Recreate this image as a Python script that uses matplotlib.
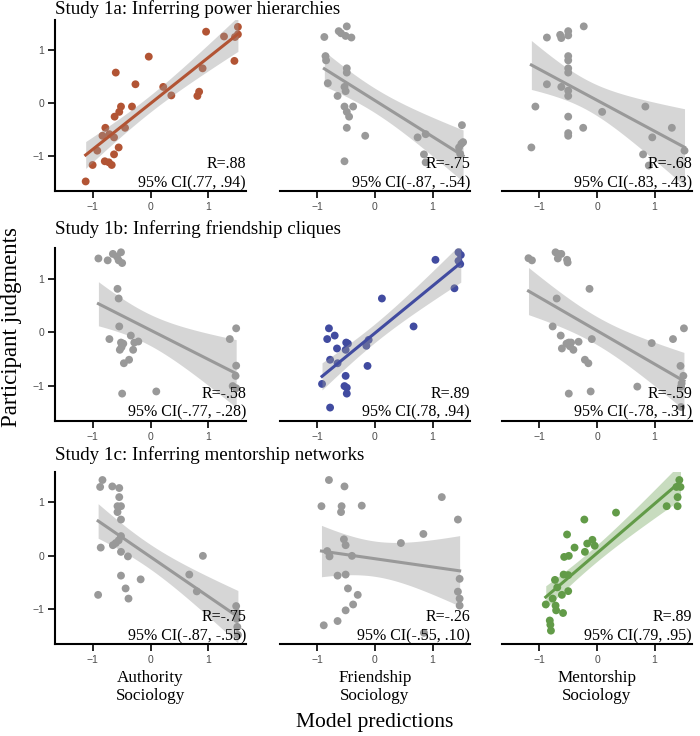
import matplotlib
matplotlib.use('Agg')
import matplotlib.pyplot as plt
import numpy as np

# ===== data: model predictions (x) vs participant judgments (y) =====
# Study 1a - power hierarchies
pow_auth_x = [-1.12, -1.0, -0.92, -0.79, -0.72, -0.67, -0.63, -0.55, -0.78, -0.83, -0.71, -0.63, -0.62, -0.60, -0.54, -0.51,
              -0.44, -0.32, -0.26, -0.03, 0.22, 0.36, 0.81, 0.84, 0.90, 0.96, 1.27, 1.45, 1.46, 1.51, 1.51]
pow_auth_y = [-1.47, -1.16, -0.89, -1.09, -1.11, -1.16, -0.96, -0.83, -0.46, -0.61, -0.58, -0.64, -0.25, 0.58, -0.16, -0.06,
              -0.46, -0.06, 0.36, 0.88, 0.31, 0.15, 0.14, 0.22, 0.66, 1.35, 1.26, 0.80, 1.25, 1.30, 1.44]
pow_friend_x = [-0.88, -0.86, -0.85, -0.82, -0.63, -0.59, -0.49, -0.51, -0.41, -0.49, -0.49, -0.53, -0.51, -0.65, -0.53,
                -0.38, -0.49, -0.45, -0.49, -0.17, -0.53, 0.74, 0.88, 0.85, 0.88, 1.51, 1.50, 1.53, 1.46, 1.48]
pow_friend_y = [1.25, 0.89, 0.81, 0.38, 1.36, 1.32, 1.45, 1.27, 1.24, 0.66, 0.58, 0.31, 0.23, 0.14, -0.06,
                -0.06, -0.16, -0.25, -0.46, -0.61, -1.09, -0.64, -0.58, -0.96, -1.11, -0.41, -0.76, -0.73, -0.83, -0.95]
pow_mentor_x = [-1.14, -1.07, -0.87, -0.87, -0.64, -0.62, -0.50, -0.50, -0.62, -0.50, -0.50, -0.50, -0.50, -0.50,
                -0.50, -0.50, -0.50, -0.50, -0.23, -0.24, 0.09, 0.84, 0.96, 0.80, 0.90, 1.30, 1.52]
pow_mentor_y = [-0.83, -0.06, 1.24, 0.36, 1.29, 1.23, 1.36, 1.28, 0.31, 0.89, 0.81, 0.66, 0.58, 0.24,
                0.14, -0.25, -0.56, -0.61, 1.45, -0.46, -0.16, -0.06, -0.64, -0.96, -1.17, -0.46, -0.89]

# Study 1b - friendship cliques
fr_auth_x = [-0.90, -0.74, -0.65, -0.58, -0.55, -0.51, -0.49, -0.57, -0.55, -0.54, -0.71, -0.51, -0.47, -0.34, -0.50,
             -0.53, -0.30, -0.28, -0.21, -0.46, -0.37, -0.49, 0.10, 1.37, 1.48, 1.48, 1.47, 1.42, 1.48]
fr_auth_y = [1.375, 1.34, 1.46, 1.41, 1.34, 1.49, 1.29, 0.81, 0.63, 0.11, -0.125, -0.19, -0.21, -0.06, -0.275,
             -0.325, -0.325, -0.19, -0.17, -0.575, -0.51, -1.14, -1.10, -0.125, 0.075, -0.62, -0.81, -1.0, -1.04]
fr_friend_x = [-0.92, -0.80, -0.83, -0.70, -0.66, -0.78, -0.65, -0.78, -0.51, -0.53, -0.49, -0.49, -0.50, -0.47,
               -0.51, -0.15, -0.13, -0.11, 0.12, 0.67, 1.05, 1.38, 1.45, 1.49, 1.45, 1.48]
fr_friend_y = [-0.96, 0.075, -0.125, -0.06, -0.30, -0.51, -0.575, -1.40, -0.81, -1.0, -1.03, -1.14, -0.19, -0.21,
               -0.325, -0.25, -0.625, -0.14, 0.63, 0.11, 1.35, 0.82, 1.49, 1.44, 1.33, 1.27]
fr_mentor_x = [-1.19, -1.13, -0.72, -0.67, -0.68, -0.62, -0.52, -0.51, -0.13, -0.70, -0.77, -0.63, -0.61, -0.53,
               -0.49, -0.47, -0.45, -0.41, -0.32, -0.09, -0.21, -0.15, -0.49, -0.11, 0.70, 0.95, 1.32, 1.51,
               1.45, 1.50, 1.47, 1.46, 1.46]
fr_mentor_y = [1.38, 1.34, 1.49, 1.46, 1.375, 1.46, 1.35, 1.30, 0.81, 0.63, 0.11, -0.06, -0.30, -0.21,
               -0.19, -0.26, -0.19, -0.325, -0.175, -0.125, -0.51, -0.575, -1.14, -1.10, -1.01, -0.20, -0.125, 0.075,
               -0.625, -0.81, -0.95, -1.01, -1.39]

# Study 1c - mentorship networks
men_auth_x = [-0.905, -0.86, -0.87, -0.83, -0.66, -0.54, -0.54, -0.57, -0.51, -0.57, -0.51, -0.65, -0.60, -0.55, -0.51,
              -0.51, -0.39, -0.51, -0.43, -0.38, -0.17, 0.67, 0.80, 0.905, 1.48, 1.50, 1.49, 1.50, 1.51]
men_auth_y = [-0.73, 0.155, 1.29, 1.42, 1.30, 1.27, 1.10, 0.93, 0.93, 0.82, 0.68, 0.20, 0.24, 0.29, 0.37,
              0.075, -0.01, -0.37, -0.61, -0.80, -0.44, -0.35, -0.665, 0.0, -0.94, -1.07, -1.18, -1.33, -1.48]
men_friend_x = [-0.93, -0.80, -0.53, -0.58, -0.59, -0.23, -0.54, -0.51, -0.83, -0.79, -0.40, -0.65, -0.51, -0.47,
                -0.30, -0.38, -0.51, -0.65, -0.89, 0.45, 0.84, 1.16, 1.44, 0.85, 1.47, 1.44, 1.47, 1.47]
men_friend_y = [0.93, 1.42, 1.30, 0.93, 0.82, 0.94, 0.31, 0.20, 0.09, -0.01, 0.0, -0.37, -0.35, -0.61,
                -0.73, -0.91, -1.02, -1.22, -1.30, 0.24, 0.41, 1.10, 0.68, -1.44, -0.43, -0.67, -0.80, -0.93]
men_mentor_x = [-0.89, -0.82, -0.81, -0.80, -0.77, -0.72, -0.71, -0.59, -0.73, -0.69, -0.61, -0.58, -0.50, -0.50,
                -0.57, -0.49, -0.52, -0.39, -0.22, -0.21, -0.17, -0.08, -0.04, 0.33, 1.21, 1.40, 1.40, 1.38,
                1.43, 1.45]
men_mentor_y = [-0.91, -1.21, -1.29, -1.40, -0.80, -0.93, -1.02, -1.07, -0.45, -0.59, -0.73, -0.35, -0.36, -0.66,
                -0.02, 0.0, 0.40, 0.155, 0.68, 0.075, 0.23, 0.30, 0.19, 0.81, 0.93, 0.93, 1.10, 1.29,
                1.42, 1.29]

row_titles = ['Study 1a: Inferring power hierarchies',
              'Study 1b: Inferring friendship cliques',
              'Study 1c: Inferring mentorship networks']
col_labels = ['Authority\nSociology', 'Friendship\nSociology', 'Mentorship\nSociology']
r_text = [['R=.88', 'R=-.75', 'R=-.68'],
          ['R=-.58', 'R=.89', 'R=-.59'],
          ['R=-.75', 'R=-.26', 'R=.89']]
ci_text = [['95% CI(.77, .94)', '95% CI(-.87, -.54)', '95% CI(-.83, -.43)'],
           ['95% CI(-.77, -.28)', '95% CI(.78, .94)', '95% CI(-.78, -.31)'],
           ['95% CI(-.87, -.55)', '95% CI(-.55, .10)', '95% CI(.79, .95)']]

panels = [[(pow_auth_x, pow_auth_y), (pow_friend_x, pow_friend_y), (pow_mentor_x, pow_mentor_y)],
          [(fr_auth_x, fr_auth_y), (fr_friend_x, fr_friend_y), (fr_mentor_x, fr_mentor_y)],
          [(men_auth_x, men_auth_y), (men_friend_x, men_friend_y), (men_mentor_x, men_mentor_y)]]

# highlighted (matching model) colours on the diagonal
diag_colors = ['#b25434', '#414ba0', '#629b48']
GREY = '#999999'

SERIF = ['Liberation Serif', 'DejaVu Serif']
SANS = ['Liberation Sans', 'DejaVu Sans']


def fit_band(x, y, t=2.05):
    x = np.asarray(x, float)
    y = np.asarray(y, float)
    n = len(x)
    b, a = np.polyfit(x, y, 1)
    xs = np.linspace(x.min(), x.max(), 100)
    ys = a + b * xs
    resid = y - (a + b * x)
    s = np.sqrt(np.sum(resid ** 2) / (n - 2))
    se = s * np.sqrt(1.0 / n + (xs - x.mean()) ** 2 / np.sum((x - x.mean()) ** 2))
    return xs, ys, ys - t * se, ys + t * se


W, H = 700, 736
fig = plt.figure(figsize=(W / 100, H / 100), dpi=100)
fig.patch.set_facecolor('white')

col_px = [(55, 246), (280, 470), (502, 692)]
row_px = [(20, 191), (248, 421), (472, 644)]
title_y = [9, 229, 455]

for r in range(3):
    for c in range(3):
        x0, x1 = col_px[c]
        y0, y1 = row_px[r]
        ax = fig.add_axes([x0 / W, 1 - y1 / H, (x1 - x0) / W, (y1 - y0) / H])
        xd, yd = panels[r][c]
        if r == c:
            pc = diag_colors[r]
            band_c, band_a = (pc, 0.35) if r == 2 else (GREY, 0.4)
        else:
            pc = GREY
            band_c, band_a = GREY, 0.4
        ax.scatter(xd, yd, s=32, color=pc, edgecolors='none', zorder=2)
        xs, ys, lo, hi = fit_band(xd, yd)
        ax.fill_between(xs, lo, hi, color=band_c, alpha=band_a, linewidth=0, zorder=3)
        ax.plot(xs, ys, color=pc, lw=2.2, zorder=4)

        ax.text(1.0, 0.155, r_text[r][c], transform=ax.transAxes, ha='right', va='center',
                fontsize=11.5, family=SERIF, zorder=5)
        ax.text(1.0, 0.047, ci_text[r][c], transform=ax.transAxes, ha='right', va='center',
                fontsize=11.5, family=SERIF, zorder=5)

        ax.set_xlim(-1.65, 1.65)
        ax.set_ylim(-1.65, 1.57)
        ax.set_xticks([-1, 0, 1])
        ax.set_xticklabels(['\u22121', '0', '1'])
        ax.spines['top'].set_visible(False)
        ax.spines['right'].set_visible(False)
        ax.spines['bottom'].set_linewidth(1.5)
        ax.spines['left'].set_linewidth(1.5)
        ax.tick_params(direction='out', length=5, width=1.2, color='black',
                       labelcolor='#4d4d4d', labelsize=7.5, pad=3)
        for lab in ax.get_xticklabels() + ax.get_yticklabels():
            lab.set_family(SANS)
        if c == 0:
            ax.set_yticks([-1, 0, 1])
            ax.set_yticklabels(['\u22121', '0', '1'])
            for lab in ax.get_yticklabels():
                lab.set_family(SANS)
        else:
            ax.spines['left'].set_visible(False)
            ax.set_yticks([])
        ax.set_facecolor('none')

    fig.text(55 / W, 1 - title_y[r] / H, row_titles[r], ha='left', va='center',
             fontsize=13.7, family=SERIF)

for c in range(3):
    cx = (col_px[c][0] + col_px[c][1]) / 2
    fig.text(cx / W, 1 - 687 / H, col_labels[c], ha='center', va='center',
             fontsize=12.3, family=SERIF, linespacing=1.2)

fig.text(375 / W, 1 - 722 / H, 'Model predictions', ha='center', va='center',
         fontsize=15.5, family=SERIF)
fig.text(12 / W, 1 - 327 / H, 'Participant judgments', ha='center', va='center',
         rotation=90, fontsize=16.5, family=SERIF)

fig.savefig('out.png', dpi=100, facecolor='white')
plt.close()
